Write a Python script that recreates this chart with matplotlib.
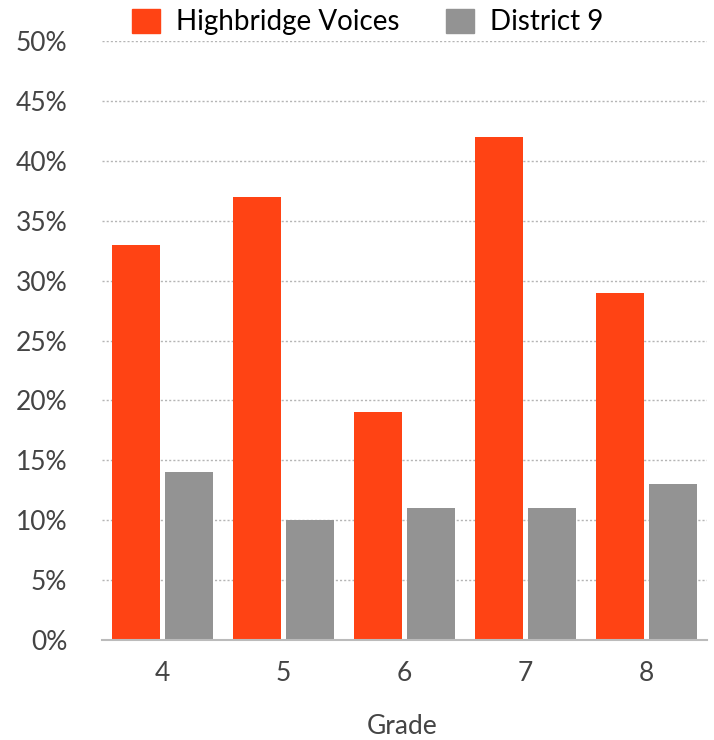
import matplotlib
import numpy as np

matplotlib.use('Agg')
import matplotlib.pyplot as plt
from matplotlib.patches import Patch

# Share of students by grade
grades = ['4', '5', '6', '7', '8']
highbridge = [33, 37, 19, 42, 29]
district9 = [14, 10, 11, 11, 13]
series_names = ['Highbridge Voices', 'District 9']

plt.rcParams['font.family'] = ['Lato', 'DejaVu Sans']

fig = plt.figure(figsize=(7.14, 7.40), dpi=100)
ax = fig.add_axes([102 / 714, 1 - 640 / 740, 605 / 714, 599 / 740])

x = np.arange(len(grades))
w = 0.4
ax.bar(x - 0.22, highbridge, width=w, color='#ff4314', zorder=3)
ax.bar(x + 0.22, district9, width=w, color='#939393', zorder=3)

ax.set_xlim(-0.5, len(grades) - 0.5)
ax.set_ylim(0, 50)
ax.set_yticks(np.arange(0, 51, 5))
ax.set_yticklabels([f'{v}%' for v in range(0, 51, 5)])
ax.set_xticks(x)
ax.set_xticklabels(grades)

ax.grid(axis='y', linestyle=(0, (1.5, 1.5)), color='#b5b5b5', linewidth=1, zorder=0)
for s in ['top', 'right', 'left']:
    ax.spines[s].set_visible(False)
ax.spines['bottom'].set_color('#bbbbbb')
ax.spines['bottom'].set_linewidth(1.5)
ax.spines['bottom'].set_zorder(4)

ax.tick_params(axis='both', length=0, labelsize=19, labelcolor='#444444')
ax.tick_params(axis='y', pad=25)
ax.tick_params(axis='x', pad=15)

fig.text(402 / 714, 1 - 727 / 740, 'Grade', fontsize=19, color='#444444',
         ha='center', va='center')

handles = [Patch(color='#ff4314'), Patch(color='#939393')]
fig.legend(handles, series_names, loc='center left', bbox_to_anchor=(132 / 714, 1 - 22 / 740),
           ncol=2, frameon=False, fontsize=20, handlelength=1.0, handleheight=1.0,
           columnspacing=1.65, handletextpad=0.6, borderaxespad=0, borderpad=0)

fig.savefig('out.png', dpi=100)
